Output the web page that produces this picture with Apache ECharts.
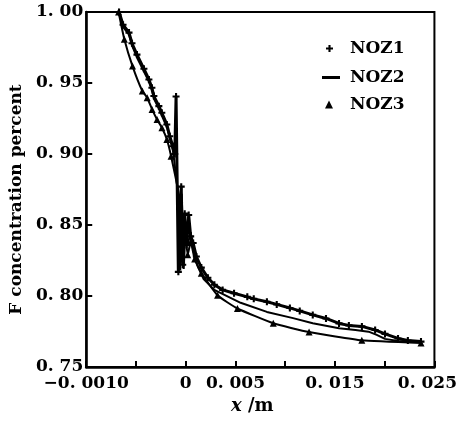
<!DOCTYPE html>
<html>
<head>
<meta charset="utf-8">
<script src="https://cdn.jsdelivr.net/npm/echarts@6/dist/echarts.min.js"></script>
<style>
html,body{margin:0;padding:0;background:#fff;}
#c{width:460px;height:424px;}
</style>
</head>
<body>
<div id="c"></div>
<script>
// ---- data ----
const seriesNames = ['NOZ1', 'NOZ2', 'NOZ3'];

const noz1X = [-0.0067, -0.0063, -0.0057, -0.0054, -0.0049, -0.0042, -0.0037, -0.0034, -0.0032, -0.0027,
  -0.0024, -0.0019, -0.0016, -0.0013, -0.0011, -0.00097, -0.00074, -0.00045, -0.0003, -0.0001,
  0.0001, 0.0003, 0.0005, 0.00075, 0.00107, 0.00157, 0.00223, 0.00288, 0.00371, 0.00486,
  0.00619, 0.00684, 0.00816, 0.00915, 0.01047, 0.01146, 0.01277, 0.0141, 0.01541, 0.0164,
  0.01771, 0.01904, 0.02003, 0.02134, 0.02233, 0.02365];
const noz1Y = [1.000, 0.991, 0.9855, 0.978, 0.970, 0.960, 0.9525, 0.9467, 0.9408, 0.9337,
  0.929, 0.9208, 0.9125, 0.9055, 0.900, 0.9405, 0.817, 0.877, 0.822, 0.858,
  0.836, 0.857, 0.842, 0.8373, 0.8278, 0.820, 0.8128, 0.8079, 0.8043, 0.8019,
  0.7994, 0.798, 0.7959, 0.7941, 0.7916, 0.7895, 0.7867, 0.7842, 0.7807, 0.7793,
  0.7786, 0.7761, 0.7733, 0.7701, 0.7687, 0.7679];

const noz2X = [-0.0067, -0.0063, -0.0057, -0.0054, -0.0049, -0.0042, -0.0037, -0.0034, -0.0032, -0.0027,
  -0.0024, -0.0019, -0.0016, -0.0013, -0.0012, -0.0008, -0.00055, -0.0004, -0.0002, 0.0000,
  0.0002, 0.0005, 0.0008, 0.0012, 0.0018, 0.00288, 0.00552, 0.00816, 0.01079, 0.01277,
  0.01541, 0.01706, 0.01838, 0.0192, 0.02003, 0.02134, 0.02365];
const noz2Y = [1.000, 0.9895, 0.984, 0.9765, 0.968, 0.958, 0.951, 0.945, 0.939, 0.932,
  0.927, 0.919, 0.911, 0.903, 0.898, 0.874, 0.818, 0.872, 0.819, 0.850,
  0.836, 0.845, 0.831, 0.821, 0.812, 0.8043, 0.7952, 0.7888, 0.7844, 0.7808,
  0.7773, 0.7761, 0.7749, 0.7726, 0.7698, 0.7683, 0.7676];

const noz3X = [-0.00675, -0.00617, -0.00535, -0.00436, -0.00387, -0.00338, -0.00288, -0.00239, -0.00189, -0.00147,
  -0.0006, -0.0004, -0.0001, 0.0002, 0.0005, 0.0009, 0.00157, 0.0032, 0.0052, 0.0088,
  0.0124, 0.0177, 0.02365];
const noz3Y = [1.000, 0.9808, 0.9619, 0.9443, 0.9396, 0.9314, 0.9243, 0.9185, 0.9102, 0.8984,
  0.868, 0.826, 0.846, 0.829, 0.838, 0.826, 0.8161, 0.8005, 0.7912, 0.7808,
  0.7746, 0.7688, 0.7669];

const xTickValues = [-0.01, -0.005, 0, 0.005, 0.01, 0.015, 0.02, 0.025];
const xTickLabels = ['\u22120. 0010', '', '0', '0. 005', '', '0. 015', '', '0. 025'];
const yTickValues = [0.75, 0.80, 0.85, 0.90, 0.95, 1.00];
const yTickLabels = ['0. 75', '0. 80', '0. 85', '0. 90', '0. 95', '1. 00'];

// ---- chart ----
const FONT = 'DejaVu Serif';
const zip = (xs, ys) => xs.map((x, i) => [x, ys[i]]);
const PLUS = 'path://M3.5,0H6.5V3.5H10V6.5H6.5V10H3.5V6.5H0V3.5H3.5Z';

function xLabel(v) {
  for (let i = 0; i < xTickValues.length; i++) {
    if (Math.abs(v - xTickValues[i]) < 1e-6) {
      const t = xTickLabels[i];
      if (i === xTickValues.length - 1 && t) return '{r|' + t + '}';
      return t;
    }
  }
  return '';
}
function yLabel(v) {
  for (let i = 0; i < yTickValues.length; i++) {
    if (Math.abs(v - yTickValues[i]) < 1e-6) return yTickLabels[i];
  }
  return '';
}

const chart = echarts.init(document.getElementById('c'), null, {renderer: 'canvas'});
const txt = {fontFamily: FONT, fontWeight: 'bold', fontSize: 17, color: '#000'};

chart.setOption({
  animation: false,
  backgroundColor: '#fff',
  grid: {left: 83, right: 23, top: 12, bottom: 57, show: true, borderColor: '#000', borderWidth: 2, backgroundColor: 'transparent'},
  legend: [
    {data: [{name: 'NOZ1', icon: PLUS}], left: 326, top: 40, padding: 0, itemWidth: 7, itemHeight: 7,
      textStyle: Object.assign({}, txt, {padding: [0, 0, 0, 12]})},
    {data: [{name: 'NOZ2', icon: 'rect'}], left: 322, top: 69, padding: 0, itemWidth: 18, itemHeight: 3,
      textStyle: Object.assign({}, txt, {padding: [0, 0, 0, 5]})},
    {data: [{name: 'NOZ3', icon: 'triangle'}], left: 325, top: 96, padding: 0, itemWidth: 8, itemHeight: 8,
      textStyle: Object.assign({}, txt, {padding: [0, 0, 0, 12]})}
  ],
  xAxis: {
    type: 'value', min: -0.01, max: 0.025, interval: 0.005,
    name: '{i|x} /m', nameLocation: 'middle', nameGap: 30,
    nameTextStyle: Object.assign({}, txt, {fontSize: 18, padding: [0, 16, 0, 0],
      rich: {i: {fontFamily: FONT, fontStyle: 'italic', fontWeight: 'bold', fontSize: 18, color: '#000'}}}),
    axisLine: {show: true, onZero: false, lineStyle: {color: '#000', width: 2.5}},
    axisTick: {show: true, inside: true, length: 6, lineStyle: {color: '#000', width: 2}},
    axisLabel: Object.assign({}, txt, {margin: 8, formatter: xLabel,
      rich: {r: {fontFamily: FONT, fontWeight: 'bold', fontSize: 17, color: '#000', padding: [0, 14, 0, 0]}}}),
    splitLine: {show: false}
  },
  yAxis: {
    type: 'value', min: 0.75, max: 1.0, interval: 0.05,
    name: 'F concentration percent', nameLocation: 'middle', nameGap: 58,
    nameTextStyle: Object.assign({}, txt, {padding: [0, 20, 0, 0]}),
    axisLine: {show: true, onZero: false, lineStyle: {color: '#000', width: 2.5}},
    axisTick: {show: true, inside: true, length: 6, lineStyle: {color: '#000', width: 2}},
    axisLabel: Object.assign({}, txt, {margin: 3, formatter: yLabel}),
    splitLine: {show: false}
  },
  series: [
    {name: seriesNames[0], type: 'line', data: zip(noz1X, noz1Y), symbol: PLUS, symbolSize: 7,
      showSymbol: true, lineStyle: {color: '#000', width: 3}, itemStyle: {color: '#000'}, z: 3},
    {name: seriesNames[1], type: 'line', data: zip(noz2X, noz2Y), symbol: 'none', showSymbol: false,
      lineStyle: {color: '#000', width: 2}, itemStyle: {color: '#000'}, z: 2},
    {name: seriesNames[2], type: 'line', data: zip(noz3X, noz3Y), symbol: 'triangle', symbolSize: 7,
      showSymbol: true, smooth: 0.15, lineStyle: {color: '#000', width: 2}, itemStyle: {color: '#000'}, z: 2}
  ]
});
</script>
</body>
</html>
